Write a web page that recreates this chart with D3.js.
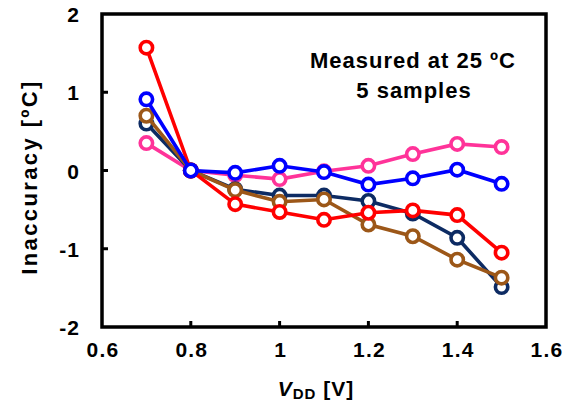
<!DOCTYPE html>
<html lang="en">
<head>
<meta charset="UTF-8">
<title>Inaccuracy vs VDD</title>
<script src="https://d3js.org/d3.v7.min.js"></script>
<style>
  body { margin: 0; background: #fff; }
  svg { display: block; }
  text { font-family: Arial, "Liberation Sans", sans-serif; font-weight: bold; fill: #000; }
</style>
</head>
<body>
<svg width="574" height="404"></svg>
<script>
// supply voltage points (V)
const vdd = [0.7, 0.8, 0.9, 1.0, 1.1, 1.2, 1.3, 1.4, 1.5];

// inaccuracy per sample (degC), drawn in this order (last on top)
const samplePink  = [0.35, 0, -0.06, -0.11, -0.01, 0.06, 0.21, 0.34, 0.30];
const sampleNavy  = [0.60, 0, -0.24, -0.32, -0.32, -0.39, -0.55, -0.86, -1.49];
const sampleBrown = [0.70, 0, -0.25, -0.40, -0.37, -0.69, -0.84, -1.14, -1.37];
const sampleRed   = [1.57, 0, -0.43, -0.53, -0.63, -0.54, -0.51, -0.57, -1.05];
const sampleBlue  = [0.91, 0, -0.03, 0.06, -0.02, -0.18, -0.10, 0.01, -0.17];

const xTicks = [0.6, 0.8, 1.0, 1.2, 1.4, 1.6];
const yTicks = [-2, -1, 0, 1, 2];

const series = [
  { color: "#ff3399", values: samplePink },
  { color: "#0d2b63", values: sampleNavy },
  { color: "#9c5718", values: sampleBrown },
  { color: "#ff0000", values: sampleRed },
  { color: "#0000ff", values: sampleBlue }
];

const svg = d3.select("svg");
const m = { left: 102, right: 546, top: 14, bottom: 327 };

const x = d3.scaleLinear().domain([0.6, 1.6]).range([m.left, m.right]);
const y = d3.scaleLinear().domain([-2, 2]).range([m.bottom, m.top]);

// frame
svg.append("rect")
  .attr("x", m.left).attr("y", m.top)
  .attr("width", m.right - m.left).attr("height", m.bottom - m.top)
  .attr("fill", "none").attr("stroke", "#000").attr("stroke-width", 3.5);

// inward ticks
svg.append("g").selectAll("line")
  .data(xTicks.slice(1, -1)).join("line")
  .attr("x1", d => x(d)).attr("x2", d => x(d))
  .attr("y1", m.bottom).attr("y2", m.bottom - 6)
  .attr("stroke", "#000").attr("stroke-width", 3);

svg.append("g").selectAll("line")
  .data(yTicks.slice(1, -1)).join("line")
  .attr("x1", m.left).attr("x2", m.left + 6)
  .attr("y1", d => y(d)).attr("y2", d => y(d))
  .attr("stroke", "#000").attr("stroke-width", 3);

// tick labels
svg.append("g").selectAll("text")
  .data(xTicks).join("text")
  .attr("x", d => x(d) + 1).attr("y", 357)
  .attr("text-anchor", "middle").attr("font-size", 21)
  .attr("letter-spacing", 1.2)
  .text(d => +d.toFixed(1));

svg.append("g").selectAll("text")
  .data(yTicks).join("text")
  .attr("x", 80).attr("y", d => y(d) + 8)
  .attr("text-anchor", "end").attr("font-size", 21)
  .attr("letter-spacing", 1)
  .text(d => d);

// axis titles
svg.append("text")
  .attr("transform", "translate(37,177) rotate(-90)")
  .attr("text-anchor", "middle").attr("font-size", 22)
  .attr("letter-spacing", 2.4)
  .text("Inaccuracy [ºC]");

const xl = svg.append("text")
  .attr("x", 316).attr("y", 396)
  .attr("text-anchor", "middle").attr("font-size", 21)
  .attr("letter-spacing", 1);
xl.append("tspan").attr("font-style", "italic").text("V");
xl.append("tspan").attr("font-size", 15).attr("dy", 3).text("DD");
xl.append("tspan").attr("dy", -3).text(" [V]");

// annotation
svg.append("text")
  .attr("x", 413).attr("y", 68)
  .attr("text-anchor", "middle").attr("font-size", 22)
  .attr("letter-spacing", 1)
  .text("Measured at 25 ºC");
svg.append("text")
  .attr("x", 414).attr("y", 98)
  .attr("text-anchor", "middle").attr("font-size", 22)
  .attr("letter-spacing", 1)
  .text("5 samples");

// series
const line = d3.line().x((d, i) => x(vdd[i])).y(d => y(d));

series.forEach(s => {
  const g = svg.append("g");
  g.append("path")
    .attr("d", line(s.values))
    .attr("fill", "none")
    .attr("stroke", s.color)
    .attr("stroke-width", 3.6);
  g.selectAll("circle")
    .data(s.values).join("circle")
    .attr("cx", (d, i) => x(vdd[i]))
    .attr("cy", d => y(d))
    .attr("r", 6.2)
    .attr("fill", "#fff")
    .attr("stroke", s.color)
    .attr("stroke-width", 3.6);
});
</script>
</body>
</html>
